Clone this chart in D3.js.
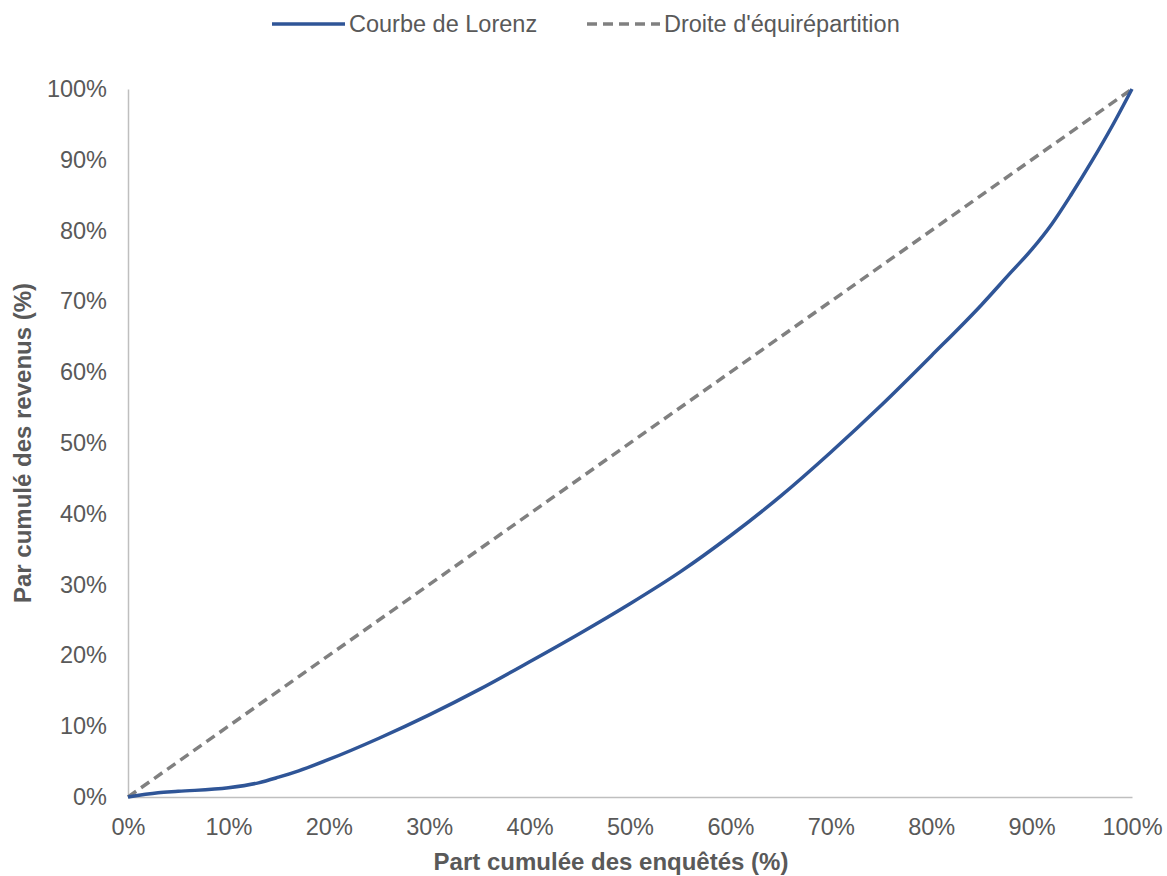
<!DOCTYPE html>
<html><head><meta charset="utf-8">
<script src="https://cdn.jsdelivr.net/npm/d3@7"></script>
<style>body{margin:0;background:#fff;} svg{display:block;font-family:"Liberation Sans",Arial,sans-serif;}</style>
</head><body>
<svg id="c" width="1167" height="876"></svg>
<script>
const lorenzX = [0,3,5,10,13,15,17,20,25,30,35,40,45,50,55,60,65,70,75,80,85,88,90,92,94,96,98,100];
const lorenzY = [0,0.6,0.8,1.3,2,2.8,3.7,5.3,8.3,11.6,15.2,19.1,23.1,27.3,31.8,36.9,42.5,48.7,55.3,62.3,69.5,74.2,77.3,80.9,85.2,89.8,94.7,100];
const equalX = [0,100];
const equalY = [0,100];
const xTicks = [0,10,20,30,40,50,60,70,80,90,100];
const yTicks = [0,10,20,30,40,50,60,70,80,90,100];
const seriesNames = ["Courbe de Lorenz","Droite d'équirépartition"];
const xTitle = "Part cumulée des enquêtés (%)";
const yTitle = "Par cumulé des revenus (%)";

const svg = d3.select("#c");
const x = d3.scaleLinear().domain([0,100]).range([128,1132]);
const y = d3.scaleLinear().domain([0,100]).range([797,89]);
const grey = "#595959";
const fs = "23.5px";

// axes
const xa = svg.append("g").attr("transform","translate(0,797)")
  .call(d3.axisBottom(x).tickValues(xTicks).tickSize(0).tickPadding(21).tickFormat(d=>d+"%"));
const ya = svg.append("g").attr("transform","translate(128,0)")
  .call(d3.axisLeft(y).tickValues(yTicks).tickSize(0).tickPadding(21).tickFormat(d=>d+"%"));
[xa,ya].forEach(a=>{
  a.select(".domain").attr("stroke","#bfbfbf").attr("stroke-width",1.5);
  a.selectAll("text").attr("fill",grey).style("font-size",fs).style("font-family","'Liberation Sans',Arial,sans-serif");
});

const line = d3.line().x(d=>x(d[0])).y(d=>y(d[1]));
svg.append("path").datum(equalX.map((v,i)=>[v,equalY[i]]))
  .attr("d",line).attr("fill","none").attr("stroke","#808080").attr("stroke-width",3.5).attr("stroke-dasharray","10,6");
svg.append("path").datum(lorenzX.map((v,i)=>[v,lorenzY[i]]))
  .attr("d",line.curve(d3.curveMonotoneX)).attr("fill","none").attr("stroke","#2f5597").attr("stroke-width",3.5);

// titles
svg.append("text").attr("x",611).attr("y",870).attr("text-anchor","middle")
  .attr("fill",grey).style("font-size","24px").style("font-weight","bold").text(xTitle);
svg.append("text").attr("transform","translate(31,443) rotate(-90)").attr("text-anchor","middle")
  .attr("fill",grey).style("font-size","24px").style("font-weight","bold").text(yTitle);

// legend
const lg = svg.append("g");
lg.append("line").attr("x1",272).attr("x2",345).attr("y1",24).attr("y2",24).attr("stroke","#2f5597").attr("stroke-width",3.5);
lg.append("text").attr("x",349).attr("y",32).attr("fill",grey).style("font-size",fs).text(seriesNames[0]);
lg.append("line").attr("x1",587).attr("x2",660).attr("y1",24).attr("y2",24).attr("stroke","#808080").attr("stroke-width",3.5).attr("stroke-dasharray","10,6");
lg.append("text").attr("x",664).attr("y",32).attr("fill",grey).style("font-size",fs).text(seriesNames[1]);
</script>
</body></html>
